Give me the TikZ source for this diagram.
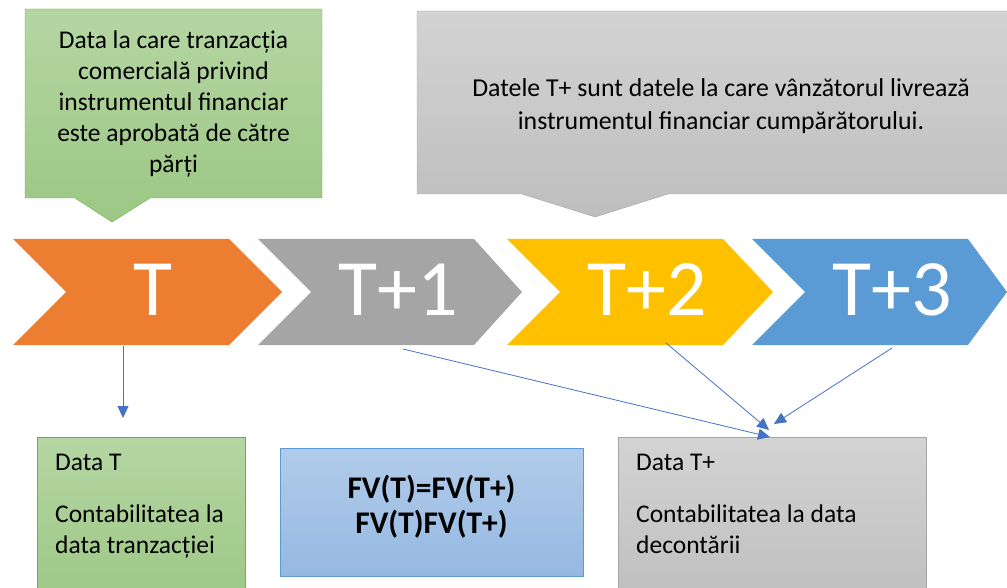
\documentclass[tikz,border=0pt]{standalone}
\usepackage{fontspec}
\setmainfont{Carlito}
\usetikzlibrary{arrows.meta}
\definecolor{corange}{HTML}{ED7D31}
\definecolor{cgray}{HTML}{A5A5A5}
\definecolor{cyellow}{HTML}{FFC000}
\definecolor{cblue}{HTML}{5B9BD5}
\definecolor{cgreen}{HTML}{70AD47}
\definecolor{carrow}{HTML}{4472C4}
\definecolor{greentop}{HTML}{B5D6A3}
\definecolor{greenbot}{HTML}{9CC784}
\definecolor{graytop}{HTML}{D3D3D3}
\definecolor{graybot}{HTML}{BEBEBE}
\definecolor{bluetop}{HTML}{B1CCEA}
\definecolor{bluebot}{HTML}{95B8E1}
\tikzset{>={Triangle[width=11pt,length=12pt]},
  txt/.style={font=\fontsize{25.5}{31}\selectfont, inner sep=0pt},
  lbl/.style={font=\fontsize{80}{80}\selectfont, text=white, inner sep=0pt},
  link/.style={->, carrow, line width=0.8pt}}

\begin{document}
\begin{tikzpicture}[x=1pt,y=-1pt]
	\clip (0,0) rectangle (1007,588);
	\shadedraw[top color=greentop,bottom color=greenbot,draw=cgreen]
		(25,9) -- (322,9) -- (322,198) -- (150,198) -- (112,222) -- (75,198) -- (25,198) -- cycle;
	\node[txt,align=center] (trade) at (173.5,104)
		{Data la care tranzacția\\comercială privind\\instrumentul financiar\\este aprobată de către\\părți};
	\shadedraw[top color=graytop,bottom color=graybot,draw=cgray]
		(417,11) -- (1030,11) -- (1030,194) -- (668,194) -- (595,217) -- (522,194) -- (417,194) -- cycle;
	\node[txt,font=\fontsize{25.8}{33}\selectfont,align=center] (settle) at (721,106)
		{Datele T+ sunt datele la care vânzătorul livrează\\instrumentul financiar cumpărătorului.};
	\foreach \i/\xs/\tip/\col/\lab in {0/13/269/corange/T, 1/258/264/cgray/T+1, 2/507/266/cyellow/T+2, 3/752/255/cblue/T+3}
	   {\fill[\col] (\xs,239) -- ++(216,0) -- (\xs+\tip,292) -- (\xs+216,345) -- (\xs,345) -- (\xs+53,292) -- cycle;
		\node[lbl] (day\i) at (\xs+140,290) {\lab};}
	\node[draw=cgreen,top color=greentop,bottom color=greenbot,anchor=north west,
		minimum width=208pt,minimum height=170pt] (boxT) at (37,437) {};
	\node[txt,anchor=base west] (boxT1) at (55,470) {Data T};
	\node[txt,anchor=base west,align=left] (boxT2) at (55,553) {Contabilitatea la\\data tranzacției};
	\node[draw=cblue,top color=bluetop,bottom color=bluebot,anchor=north west,
		minimum width=303pt,minimum height=128pt] (boxfv) at (280,448) {};
	\node[txt,font=\bfseries\fontsize{31.5}{35}\selectfont,align=center] (fv) at (431.5,507)
		{FV(T)=FV(T+)\\FV(T)FV(T+)};
	\node[draw=cgray,top color=graytop,bottom color=graybot,anchor=north west,
		minimum width=308pt,minimum height=170pt] (boxTp) at (618,437) {};
	\node[txt,anchor=base west] (boxTp1) at (636,470) {Data T+};
	\node[txt,anchor=base west,align=left] (boxTp2) at (636,553) {Contabilitatea la data\\decontării};
	\foreach \i/\sx/\sy/\ex/\ey in {0/123/346/123/418, 1/403/349/770/437, 2/666/343/769/430, 3/892/348/774/424}
	   {\coordinate (from\i) at (\sx,\sy);
		\coordinate (to\i) at (\ex,\ey);
		\draw[link] (from\i) -- (to\i);}
\end{tikzpicture}
\end{document}
